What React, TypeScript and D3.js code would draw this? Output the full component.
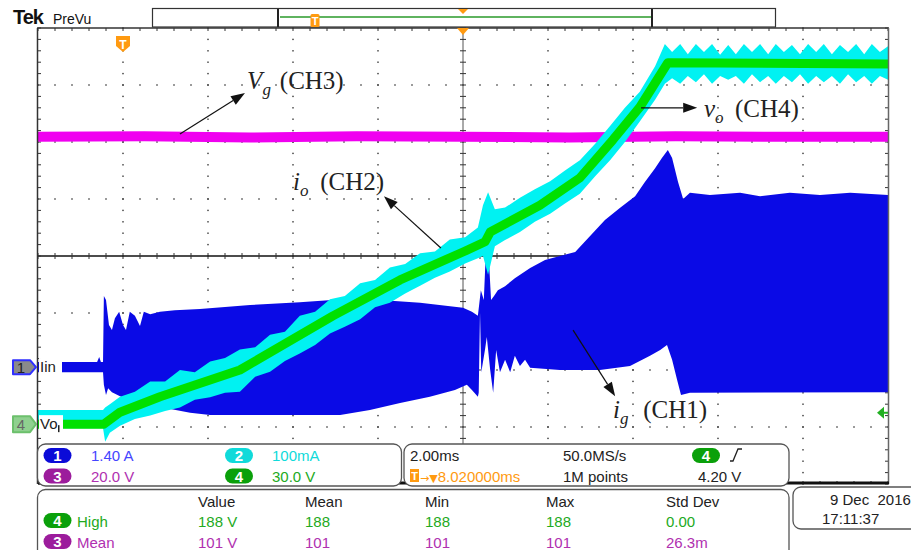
import React from "react";
import * as d3 from "d3";

// time in ms (2.00 ms/div), vertical in screen divisions
// CH4 vo (green) centre trace
const ch4Trace: [number, number][] = [
  [0, -2.95], [1.55, -2.95], [1.93, -2.74], [2.87, -2.47], [4.75, -2.0], [6.94, -1.05],
  [8.52, -0.42], [10.0, 0.07], [10.52, 0.25], [10.64, 0.42], [11.81, 0.89], [12.75, 1.37],
  [13.53, 2.04], [14.16, 2.61], [14.82, 3.39], [20, 3.37],
];

// CH2 io (cyan) envelope
const ch2Upper: [number, number][] = [
  [0, -2.7], [1.53, -2.7], [1.58, -2.66], [1.69, -2.6], [1.93, -2.47], [2.28, -2.38], [2.64, -2.2],
  [2.99, -2.2], [3.34, -2.0], [3.69, -2.04], [4.05, -1.85], [4.4, -1.79], [4.75, -1.64], [5.11, -1.6],
  [5.46, -1.38], [5.81, -1.33], [6.16, -1.05], [6.52, -0.98], [6.87, -0.76], [7.22, -0.7], [7.58, -0.48],
  [7.93, -0.42], [8.28, -0.2], [8.64, -0.14], [8.99, 0.05], [9.34, 0.08], [9.69, 0.29], [10.05, 0.33],
  [10.35, 0.5], [10.47, 0.89], [10.59, 1.12], [10.75, 0.82], [10.99, 0.85], [11.34, 1.02], [11.69, 1.17],
  [12.05, 1.31], [12.4, 1.5], [12.75, 1.68], [13.11, 1.97], [13.46, 2.28], [13.81, 2.6], [14.16, 2.88],
  [14.52, 3.33], [14.75, 3.72], [14.92, 3.58], [15.11, 3.72], [15.29, 3.54], [15.48, 3.72], [15.67, 3.58],
  [15.86, 3.72], [16.05, 3.53], [16.24, 3.7], [16.42, 3.54], [16.61, 3.72], [16.8, 3.58], [16.99, 3.72],
  [17.18, 3.54], [17.36, 3.72], [17.55, 3.58], [17.74, 3.7], [17.93, 3.54], [18.12, 3.72], [18.31, 3.58],
  [18.49, 3.72], [18.68, 3.54], [18.87, 3.7], [19.06, 3.58], [19.25, 3.72], [19.44, 3.54], [19.62, 3.72],
  [19.81, 3.58], [20, 3.68],
];
const ch2Lower: [number, number][] = [
  [0, -3.02], [1.53, -3.02], [1.58, -3.26], [1.69, -3.1], [1.93, -2.98], [2.28, -2.86], [2.64, -2.8],
  [2.99, -2.72], [3.34, -2.66], [3.69, -2.52], [4.05, -2.48], [4.4, -2.4], [4.75, -2.38], [5.11, -2.12],
  [5.46, -2.03], [5.81, -1.84], [6.16, -1.71], [6.52, -1.56], [6.87, -1.36], [7.22, -1.24], [7.58, -1.11],
  [7.93, -0.9], [8.28, -0.82], [8.64, -0.66], [8.99, -0.52], [9.34, -0.38], [9.69, -0.27], [10.05, -0.13],
  [10.35, -0.04], [10.47, 0.0], [10.59, -0.33], [10.75, 0.17], [10.99, 0.28], [11.34, 0.42], [11.69, 0.6],
  [12.05, 0.74], [12.4, 0.92], [12.75, 1.09], [13.11, 1.4], [13.46, 1.68], [13.81, 2.0], [14.16, 2.36],
  [14.52, 2.74], [14.75, 3.02], [14.92, 3.12], [15.11, 3.02], [15.29, 3.16], [15.48, 3.05], [15.67, 3.19],
  [15.86, 3.02], [16.05, 3.16], [16.24, 3.09], [16.42, 3.16], [16.61, 3.02], [16.8, 3.19], [16.99, 3.05],
  [17.18, 3.16], [17.36, 3.02], [17.55, 3.16], [17.74, 3.05], [17.93, 3.19], [18.12, 3.02], [18.31, 3.16],
  [18.49, 3.05], [18.68, 3.16], [18.87, 3.02], [19.06, 3.19], [19.25, 3.05], [19.44, 3.16], [19.62, 3.02],
  [19.81, 3.16], [20, 3.09],
];

// CH1 ig (blue) envelope
const ch1Upper: [number, number][] = [
  [0, -1.86], [1.39, -1.86], [1.44, -1.77], [1.48, -1.86], [1.53, -1.86], [1.55, -0.7], [1.6, -0.77],
  [1.67, -1.21], [1.74, -1.3], [1.81, -1.09], [1.91, -0.98], [2.0, -1.21], [2.07, -1.3], [2.16, -0.98],
  [2.28, -1.05], [2.4, -1.23], [2.49, -0.98], [2.64, -1.02], [2.87, -0.98], [3.22, -0.95], [3.81, -0.93],
  [4.99, -0.86], [6.16, -0.81], [7.34, -0.75], [8.05, -0.77], [8.99, -0.82], [10.0, -0.91], [10.21, -0.98],
  [10.35, -1.05], [10.42, -0.6], [10.49, -0.77], [10.54, 0.11], [10.56, 0.28], [10.61, -0.07], [10.66, -0.77],
  [10.73, -0.7], [10.82, -0.6], [10.99, -0.53], [11.22, -0.39], [11.58, -0.21], [11.93, -0.07], [12.28, 0.0],
  [12.64, 0.07], [12.99, 0.35], [13.34, 0.63], [13.69, 0.84], [14.05, 1.05], [14.28, 1.3], [14.52, 1.54],
  [14.68, 1.72], [14.82, 1.86], [14.92, 1.72], [15.06, 1.3], [15.18, 1.0], [15.34, 1.11], [15.81, 1.07],
  [16.52, 1.11], [16.99, 1.05], [17.69, 1.11], [18.4, 1.07], [19.11, 1.11], [20, 1.07],
];
const ch1Lower: [number, number][] = [
  [0, -2.04], [1.53, -2.04], [1.55, -2.26], [1.6, -2.44], [1.65, -2.32], [1.74, -2.39], [1.93, -2.46],
  [2.16, -2.53], [2.52, -2.6], [2.87, -2.65], [3.58, -2.75], [4.05, -2.79], [7.11, -2.79], [7.81, -2.7],
  [8.52, -2.58], [9.22, -2.47], [9.81, -2.35], [10.09, -2.26], [10.21, -2.35], [10.35, -2.47], [10.37, -2.4],
  [10.4, -0.98], [10.43, -2.04], [10.52, -1.63], [10.56, -1.42], [10.64, -2.0], [10.71, -2.4], [10.78, -1.65],
  [10.87, -2.04], [10.99, -1.82], [11.11, -2.04], [11.22, -1.75], [11.34, -1.93], [11.46, -1.82], [11.58, -1.96],
  [12.28, -2.0], [13.22, -2.0], [13.93, -1.93], [14.4, -1.75], [14.64, -1.65], [14.8, -1.56], [14.92, -1.82],
  [15.04, -2.18], [15.13, -2.44], [15.34, -2.4], [20, -2.39],
];

// CH3 Vg (magenta)
const ch3Trace: [number, number][] = [
  [0, 2.09], [2.5, 2.1], [5, 2.08], [7.5, 2.1], [10, 2.09], [12.5, 2.08], [15, 2.1], [17.5, 2.09], [20, 2.09],
];

const chanScales = ["1.40 A", "100mA", "20.0 V", "30.0 V"];
const measHeaders = ["Value", "Mean", "Min", "Max", "Std Dev"];
const measHigh = ["188 V", "188", "188", "188", "0.00"];
const measMean = ["101 V", "101", "101", "101", "26.3m"];

// annotations: symbol, subscript, channel text, symbol pos, channel text pos, arrow tail, arrow head
const notes = [
  { s: "V", sub: "g", ch: "(CH3)", at: [4.92, 2.93], chAt: 5.69, from: [3.34, 2.14], to: [4.87, 2.86] },
  { s: "v", sub: "o", ch: "(CH4)", at: [15.67, 2.44], chAt: 16.4, from: [14.19, 2.6], to: [15.51, 2.6] },
  { s: "i", sub: "o", ch: "(CH2)", at: [6.0, 1.16], chAt: 6.64, from: [9.48, 0.14], to: [8.14, 1.05] },
  { s: "i", sub: "g", ch: "(CH1)", at: [13.53, -2.84], chAt: 14.24, from: [12.59, -1.3], to: [13.58, -2.46] },
];

const BLUE = "#0a0ae6";
const CYAN = "#00f2f2";
const GREEN = "#00e000";
const MAGENTA = "#f000f0";
const ui = "'Liberation Sans', Arial, sans-serif";
const serif = "'Liberation Serif', 'Times New Roman', serif";

const x = d3.scaleLinear().domain([0, 20]).range([38, 888]);
const y = d3.scaleLinear().domain([-4, 4]).range([484, 28]);

const line = d3.line<[number, number]>().x((d) => x(d[0])).y((d) => y(d[1]));
const band = (up: [number, number][], lo: [number, number][]) =>
  line(up.concat([...lo].reverse())) + "Z";

function Pill({ cx, cy, n, fill }: { cx: number; cy: number; n: string; fill: string }) {
  return (
    <g>
      <rect x={cx - 14} y={cy - 7.5} width={28} height={15} rx={7.5} fill={fill} />
      <text x={cx} y={cy + 5.5} textAnchor="middle" fill="#fff" fontSize={15} fontWeight="bold" fontFamily={ui}>
        {n}
      </text>
    </g>
  );
}

function Arrow({ from, to }: { from: number[]; to: number[] }) {
  const x1 = x(from[0]), y1 = y(from[1]), x2 = x(to[0]), y2 = y(to[1]);
  const a = Math.atan2(y2 - y1, x2 - x1);
  const L = 14, Wd = 5;
  const bx = x2 - L * Math.cos(a), by = y2 - L * Math.sin(a);
  const p = [
    [x2, y2],
    [bx + Wd * Math.sin(a), by - Wd * Math.cos(a)],
    [bx - Wd * Math.sin(a), by + Wd * Math.cos(a)],
  ];
  return (
    <g>
      <line x1={x1} y1={y1} x2={bx} y2={by} stroke="#111" strokeWidth={1.2} />
      <polygon points={p.map((q) => q.join(",")).join(" ")} fill="#111" />
    </g>
  );
}

export default function App() {
  const minorT = d3.range(0, 20.001, 0.4);
  const minorV = d3.range(-4, 4.001, 0.2);
  const majT = [2, 4, 6, 8, 12, 14, 16, 18];
  const majV = [-3, -2, -1, 1, 2, 3];
  const L = x(0), R = x(20), T = y(4), B = y(-4), cx = x(10), cy = y(0);

  return (
    <svg width={911} height={550} style={{ position: "absolute", left: 0, top: 0, background: "#fff" }}>
      {/* top bar */}
      <text x={13} y={24} fontFamily={ui} fontWeight="bold" fontSize={20} letterSpacing={-1} fill="#111">Tek</text>
      <text x={53} y={24} fontFamily={ui} fontSize={14} fill="#111">PreVu</text>
      <rect x={152.5} y={8.5} width={623} height={18.5} fill="#fff" stroke="#333" strokeWidth={1.2} />
      <line x1={278} y1={9} x2={278} y2={27} stroke="#222" strokeWidth={2} />
      <line x1={652} y1={9} x2={652} y2={27} stroke="#222" strokeWidth={2} />
      <line x1={280} y1={17} x2={651} y2={17} stroke="#2a9a2a" strokeWidth={1.5} />
      <rect x={310.5} y={14} width={9} height={13} rx={1.5} fill="#ff9a10" />
      <text x={315} y={25} textAnchor="middle" fontFamily={ui} fontSize={11} fontWeight="bold" fill="#fff">T</text>
      <polygon points={`${cx - 5},9 ${cx + 5},9 ${cx},14`} fill="#ff9a10" />

      {/* grid */}
      {majT.map((t) =>
        minorV.map((v) => <rect key={`gt${t}_${v}`} x={x(t) - 0.7} y={y(v) - 0.7} width={1.4} height={1.4} fill="#333" />)
      )}
      {majV.map((v) =>
        minorT.map((t) => <rect key={`gv${v}_${t}`} x={x(t) - 0.7} y={y(v) - 0.7} width={1.4} height={1.4} fill="#333" />)
      )}
      <line x1={cx} y1={T} x2={cx} y2={B} stroke="#555" strokeWidth={1} />
      <line x1={L} y1={cy} x2={R} y2={cy} stroke="#111" strokeWidth={1.3} />
      {minorT.map((t) => (
        <g key={`tk${t}`}>
          <line x1={x(t)} y1={cy - 3} x2={x(t)} y2={cy + 3} stroke="#333" />
          <line x1={x(t)} y1={T} x2={x(t)} y2={T + 3} stroke="#333" />
          <line x1={x(t)} y1={B} x2={x(t)} y2={B - 3} stroke="#333" />
        </g>
      ))}
      {minorV.map((v) => (
        <g key={`vk${v}`}>
          <line x1={cx - 3} y1={y(v)} x2={cx + 3} y2={y(v)} stroke="#333" />
          <line x1={L} y1={y(v)} x2={L + 3} y2={y(v)} stroke="#333" />
          <line x1={R} y1={y(v)} x2={R - 3} y2={y(v)} stroke="#333" />
        </g>
      ))}

      {/* traces */}
      <path d={line(ch3Trace) || ""} fill="none" stroke={MAGENTA} strokeWidth={10} />
      <path d={band(ch1Upper, ch1Lower)} fill={BLUE} />
      <path d={band(ch2Upper, ch2Lower)} fill={CYAN} />
      <path d={line(ch4Trace) || ""} fill="none" stroke={GREEN} strokeWidth={9} strokeLinejoin="round" />

      {/* frame */}
      <line x1={L - 0.5} y1={T} x2={L - 0.5} y2={B} stroke="#333" strokeWidth={1.5} />
      <line x1={L - 1} y1={T} x2={R + 1} y2={T} stroke="#333" strokeWidth={1.5} />
      <line x1={R + 0.5} y1={T} x2={R + 0.5} y2={B} stroke="#666" strokeWidth={1.5} />
      <line x1={L} y1={B - 1} x2={R + 1} y2={B - 1} stroke="#111" strokeWidth={3} />

      {/* markers */}
      <polygon points={`${cx - 6},${T} ${cx + 6},${T} ${cx},${T + 7}`} fill="#ff9a10" />
      <path d={`M${x(2) - 7},${T + 8} h14 v10 l-7,6 l-7,-6 z`} fill="#ff9a10" />
      <text x={x(2)} y={T + 21} textAnchor="middle" fontFamily={ui} fontSize={12} fontWeight="bold" fill="#fff">T</text>

      <rect x={L + 1} y={y(-1.86) - 4} width={23} height={18} fill="#fff" />
      <text x={40} y={y(-1.95) + 5} fontFamily={ui} fontSize={15} fill="#222">Iin</text>
      <path d={`M13,${y(-1.95) - 7} h17 l6,7 l-6,7 h-17 z`} fill="#8a8a8a" stroke="#2f2fff" strokeWidth={2} strokeLinejoin="round" />
      <text x={21} y={y(-1.95) + 5.5} textAnchor="middle" fontFamily={ui} fontSize={15} fill="#222">1</text>

      <rect x={L + 1} y={y(-2.95) - 9} width={24} height={20} fill="#fff" />
      <text x={40} y={y(-2.95) + 5} fontFamily={ui} fontSize={15} fill="#222">Vo</text>
      <rect x={58} y={y(-2.95) + 1} width={1.5} height={7} fill="#222" />
      <path d={`M13,${y(-2.95) - 8} h17 l6,8 l-6,8 h-17 z`} fill="#8fd08f" stroke="#6cc06c" strokeWidth={2} strokeLinejoin="round" />
      <text x={21} y={y(-2.95) + 5.5} textAnchor="middle" fontFamily={ui} fontSize={15} fill="#666">4</text>

      <polygon points={`${R - 11},${y(-2.75)} ${R - 4},${y(-2.75) - 6} ${R - 4},${y(-2.75) + 6}`} fill="#22b022" />
      <line x1={R - 5} y1={y(-2.75)} x2={R} y2={y(-2.75)} stroke="#22b022" strokeWidth={2} />

      {/* annotations */}
      {notes.map((n, i) => (
        <g key={`n${i}`}>
          <Arrow from={n.from} to={n.to} />
          <text x={x(n.at[0])} y={y(n.at[1])} fontFamily={serif} fontSize={25} fill="#222">
            <tspan fontStyle="italic">{n.s}</tspan>
            <tspan fontStyle="italic" fontSize={17} dy={6}>{n.sub}</tspan>
          </text>
          <text x={x(n.chAt)} y={y(n.at[1])} fontFamily={serif} fontSize={25} fill="#222">{n.ch}</text>
        </g>
      ))}

      {/* info panels */}
      <g fontFamily={ui} fontSize={15}>
        <rect x={37.5} y={444} width={364} height={42} rx={8} fill="#fff" stroke="#555" strokeWidth={1.3} />
        <Pill cx={57.5} cy={455.5} n="1" fill="#0b0bd8" />
        <text x={91} y={461} fill="#4545ff">{chanScales[0]}</text>
        <Pill cx={239} cy={455.5} n="2" fill="#10dada" />
        <text x={272} y={461} fill="#10dada">{chanScales[1]}</text>
        <Pill cx={57.5} cy={476} n="3" fill="#9c1c9c" />
        <text x={91} y={482} fill="#b030b0">{chanScales[2]}</text>
        <Pill cx={239} cy={476} n="4" fill="#0aa00a" />
        <text x={272} y={482} fill="#22aa22">{chanScales[3]}</text>

        <rect x={404} y={444} width={385} height={42} rx={8} fill="#fff" stroke="#555" strokeWidth={1.3} />
        <text x={410} y={461} fill="#222">2.00ms</text>
        <text x={563} y={461} fill="#222">50.0MS/s</text>
        <Pill cx={706} cy={455.5} n="4" fill="#0aa00a" />
        <path d="M730,461 h3 l5,-12 h4" fill="none" stroke="#222" strokeWidth={1.3} />
        <rect x={410} y={469} width={9} height={13} fill="#ff9a10" />
        <text x={414.5} y={480} textAnchor="middle" fontSize={11} fontWeight="bold" fill="#fff">T</text>
        <text x={420} y={482} fill="#ff9a10">
          <tspan fontFamily="'DejaVu Sans'" fontSize={11}>→▼</tspan>
          <tspan>8.020000ms</tspan>
        </text>
        <text x={563} y={482} fill="#222">1M points</text>
        <text x={698} y={482} fill="#222">4.20 V</text>

        <rect x={37.5} y={489.5} width={751.5} height={80} rx={8} fill="#fff" stroke="#555" strokeWidth={1.3} />
        {measHeaders.map((h, i) => (
          <text key={h} x={[198, 305, 425, 546, 666][i]} y={507} fill="#222">{h}</text>
        ))}
        <Pill cx={57.5} cy={520.5} n="4" fill="#0aa00a" />
        <text x={77} y={527} fill="#22aa22">High</text>
        {measHigh.map((h, i) => (
          <text key={`h${i}`} x={[198, 305, 425, 546, 666][i]} y={527} fill="#22aa22">{h}</text>
        ))}
        <Pill cx={57.5} cy={541.5} n="3" fill="#9c1c9c" />
        <text x={77} y={548} fill="#b030b0">Mean</text>
        {measMean.map((h, i) => (
          <text key={`m${i}`} x={[198, 305, 425, 546, 666][i]} y={548} fill="#b030b0">{h}</text>
        ))}

        <rect x={793} y={487} width={130} height={42} rx={8} fill="#fff" stroke="#555" strokeWidth={1.3} />
        <text x={830} y={505} fill="#222" style={{ whiteSpace: "pre" }}>9 Dec  2016</text>
        <text x={822} y={524} fill="#222">17:11:37</text>
      </g>
    </svg>
  );
}
